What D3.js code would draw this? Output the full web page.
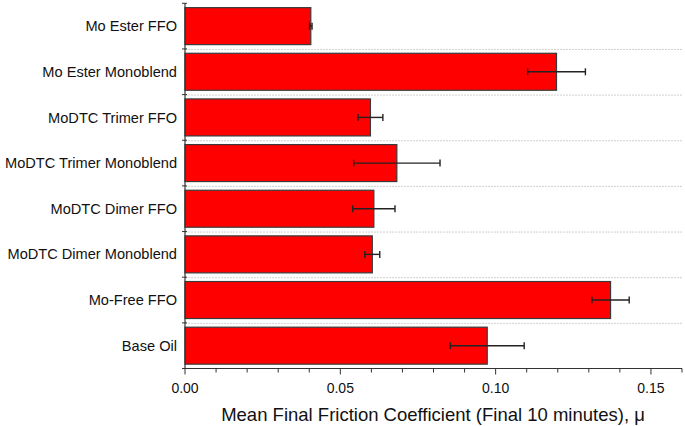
<!DOCTYPE html>
<html><head><meta charset="utf-8">
<script src="https://cdn.jsdelivr.net/npm/d3@7"></script>
<style>body{margin:0;background:#fff}svg{display:block}text{font-family:"Liberation Sans",Arial,sans-serif}</style>
</head><body>
<svg id="c" width="685" height="426"></svg>
<script>
const categories = ["Mo Ester FFO","Mo Ester Monoblend","MoDTC Trimer FFO","MoDTC Trimer Monoblend","MoDTC Dimer FFO","MoDTC Dimer Monoblend","Mo-Free FFO","Base Oil"];
const means = [0.0405,0.1196,0.0597,0.0682,0.0608,0.0603,0.1370,0.0973];
const errors = [0.0004,0.0093,0.0040,0.0139,0.0068,0.0024,0.0060,0.0119];
const majorTicks = [0,0.05,0.10,0.15];
const xTitle = "Mean Final Friction Coefficient (Final 10 minutes), μ";

const svg = d3.select("#c");
const m = {l:185, r:682, t:3.3, b:368.5};
const x = d3.scaleLinear().domain([0,0.16]).range([m.l,m.r]);
const y = d3.scaleBand().domain(categories).range([m.t,m.b]).paddingInner(0.19).paddingOuter(0.095);
const yb = d3.scaleBand().domain(categories).range([m.t,m.b]);

// gridlines at category boundaries
const bounds = categories.map(c=>yb(c)).slice(1);
svg.append("g").selectAll("line").data(bounds).join("line")
  .attr("x1",m.l).attr("x2",m.r).attr("y1",d=>d+0.5).attr("y2",d=>d+0.5)
  .attr("stroke","#d0d0d0").attr("stroke-width",1).attr("stroke-dasharray","2,1");

// bars
svg.append("g").selectAll("rect").data(categories).join("rect")
  .attr("x",x(0)).attr("y",d=>y(d))
  .attr("width",(d,i)=>x(means[i])-x(0)).attr("height",y.bandwidth())
  .attr("fill","#ff0000").attr("stroke","#3a3a3a").attr("stroke-width",1.2);

// error bars
const eg = svg.append("g").attr("stroke","#222").attr("stroke-width",1.4);
categories.forEach((c,i)=>{
  const cy = y(c)+y.bandwidth()/2;
  const lo = x(means[i]-errors[i]), hi = x(means[i]+errors[i]);
  eg.append("line").attr("x1",lo).attr("x2",hi).attr("y1",cy).attr("y2",cy);
  eg.append("line").attr("x1",lo).attr("x2",lo).attr("y1",cy-3.5).attr("y2",cy+3.5);
  eg.append("line").attr("x1",hi).attr("x2",hi).attr("y1",cy-3.5).attr("y2",cy+3.5);
});

// x axis
const xAxis = svg.append("g").attr("transform",`translate(0,${m.b})`);
xAxis.append("line").attr("x1",m.l).attr("x2",m.r).attr("stroke","#333").attr("stroke-width",1.2);
const minor = d3.range(0,0.1601,0.01);
xAxis.selectAll(".mt").data(minor).join("line")
  .attr("x1",d=>x(d)).attr("x2",d=>x(d)).attr("y1",0)
  .attr("y2",(d,i)=> i%5===0?6:4).attr("stroke","#333").attr("stroke-width",1);
xAxis.selectAll(".tl").data(majorTicks).join("text")
  .attr("x",d=>x(d)).attr("y",24).attr("text-anchor","middle")
  .attr("font-size",14).attr("fill","#111").text(d=>d3.format(".2f")(d));
svg.append("text").attr("x",433).attr("y",421).attr("text-anchor","middle")
  .attr("font-size",18.5).attr("fill","#111").text(xTitle);

// y axis
const yAxis = svg.append("g");
yAxis.append("line").attr("x1",m.l).attr("x2",m.l).attr("y1",m.t).attr("y2",m.b).attr("stroke","#333").attr("stroke-width",1.2);
const yticks = categories.map(c=>yb(c)).concat([m.b]);
yAxis.selectAll(".yt").data(yticks).join("line")
  .attr("x1",m.l-3).attr("x2",m.l+2).attr("y1",d=>d).attr("y2",d=>d).attr("stroke","#333").attr("stroke-width",1);
yAxis.selectAll(".yl").data(categories).join("text")
  .attr("x",177).attr("y",d=>yb(d)+yb.bandwidth()/2).attr("dy","0.35em")
  .attr("text-anchor","end").attr("font-size",14.6).attr("fill","#111").text(d=>d);
</script>
</body></html>
